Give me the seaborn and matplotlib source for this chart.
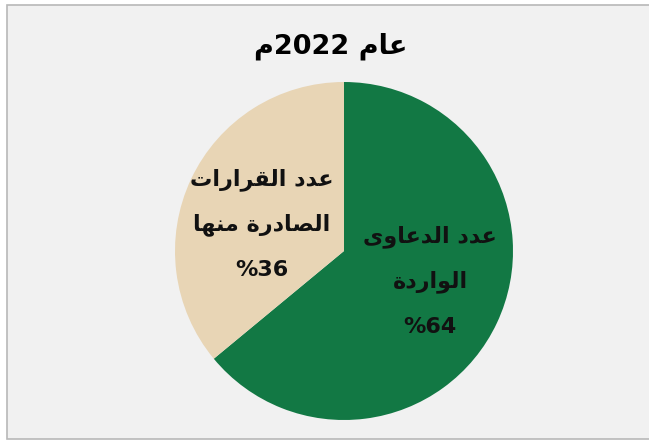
import matplotlib
matplotlib.use("Agg")
import matplotlib.pyplot as plt
import seaborn as sns
from matplotlib.patches import Rectangle

# data
title = "عام 2022م"
slice_names = ["عدد الدعاوى الواردة", "عدد القرارات الصادرة منها"]
label_lines = [["عدد الدعاوى", "الواردة", "64%"],
               ["عدد القرارات", "الصادرة منها", "36%"]]
shares = [64, 36]
colors = ["#127844", "#e8d5b5"]

# tiny arabic shaper (matplotlib has no bidi / joining)
# letter: (isolated, final, initial, medial)
FORMS = {
    "ا": ("\ufe8d", "\ufe8e", None, None),
    "د": ("\ufea9", "\ufeaa", None, None),
    "ر": ("\ufead", "\ufeae", None, None),
    "و": ("\ufeed", "\ufeee", None, None),
    "ة": ("\ufe93", "\ufe94", None, None),
    "ى": ("\ufeef", "\ufef0", None, None),
    "ت": ("\ufe95", "\ufe96", "\ufe97", "\ufe98"),
    "ص": ("\ufeb9", "\ufeba", "\ufebb", "\ufebc"),
    "ع": ("\ufec9", "\ufeca", "\ufecb", "\ufecc"),
    "ق": ("\ufed5", "\ufed6", "\ufed7", "\ufed8"),
    "ل": ("\ufedd", "\ufede", "\ufedf", "\ufee0"),
    "م": ("\ufee1", "\ufee2", "\ufee3", "\ufee4"),
    "ن": ("\ufee5", "\ufee6", "\ufee7", "\ufee8"),
    "ه": ("\ufee9", "\ufeea", "\ufeeb", "\ufeec"),
}


def dual(c):
    return c in FORMS and FORMS[c][2] is not None


def shape(s):
    out = []
    for i, c in enumerate(s):
        if c not in FORMS:
            out.append(c)
            continue
        prev = s[i - 1] if i > 0 else ""
        nxt = s[i + 1] if i + 1 < len(s) else ""
        p = dual(prev)
        n = dual(c) and nxt in FORMS
        iso, fin, ini, med = FORMS[c]
        if p and n:
            out.append(med)
        elif p:
            out.append(fin)
        elif n:
            out.append(ini)
        else:
            out.append(iso)
    # reverse for right-to-left, keep digit runs left-to-right
    vis = out[::-1]
    res, run = [], []
    for ch in vis:
        if ch.isdigit():
            run.append(ch)
        else:
            res.extend(run[::-1])
            run = []
            res.append(ch)
    res.extend(run[::-1])
    return "".join(res)


sns.set_theme(style="white")
plt.rcParams["font.family"] = ["DejaVu Sans"]

W, H = 649, 440
fig = plt.figure(figsize=(W / 100, H / 100), dpi=100)
fig.patch.set_facecolor("white")
fig.patches.append(Rectangle((7 / W, 1.5 / H), 660 / W, 433 / H, transform=fig.transFigure,
                             facecolor="#f1f1f1", edgecolor="#b8b8b8", lw=1.2, zorder=-10))

cx, cy, r = 344, 251, 169
ax = fig.add_axes([(cx - r) / W, (H - cy - r) / H, 2 * r / W, 2 * r / H])
ax.patch.set_alpha(0)
ax.pie(shares, colors=colors, startangle=90, counterclock=False,
       wedgeprops=dict(linewidth=0))
ax.set_xlim(-1, 1)
ax.set_ylim(-1, 1)
ax.axis("off")

fig.text(331 / W, 1 - 46 / H, shape(title), ha="center", va="center",
         fontsize=19.5, fontweight="bold", color="black")

positions = [(0.51, [0.083, -0.183, -0.45]), (-0.485, [0.42, 0.154, -0.112])]
for lines, (x, ys) in zip(label_lines, positions):
    for line, y in zip(lines, ys):
        ax.text(x, y, shape(line), ha="center", va="center",
                fontsize=16, fontweight="bold", color="#111111")

fig.savefig("out.png", dpi=100, facecolor=fig.get_facecolor())
